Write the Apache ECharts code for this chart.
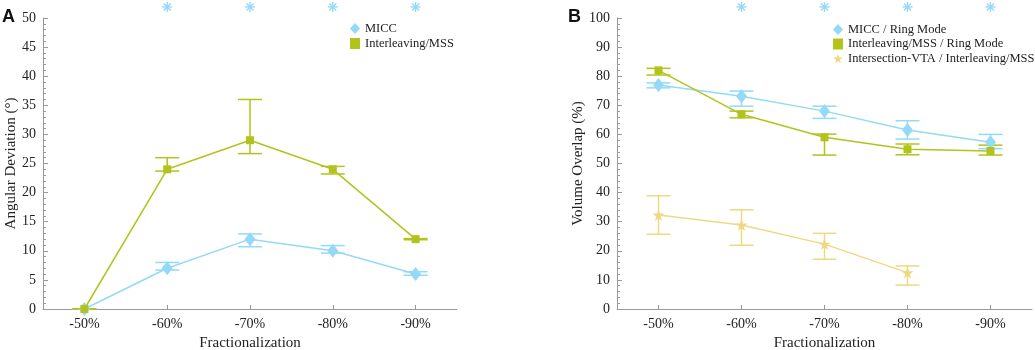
<!DOCTYPE html>
<html>
<head>
<meta charset="utf-8">
<script src="https://cdn.jsdelivr.net/npm/echarts@6/dist/echarts.min.js"></script>
<style>
  html, body { margin: 0; padding: 0; background: #fff; }
  #chart { width: 1035px; height: 350px; }
</style>
</head>
<body>
<div id="chart"></div>
<script>
const categories = ['-50%', '-60%', '-70%', '-80%', '-90%'];

// Panel A: angular deviation (deg)
const angMicc = [0, 7, 12, 10, 6];
const angMiccLow = [0, 6.7, 10.7, 9.6, 5.8];
const angMiccHigh = [0, 8.0, 12.9, 10.9, 6.4];
const angInter = [0, 24, 29, 24, 12];
const angInterLow = [0, 23.7, 26.7, 23.2, 11.9];
const angInterHigh = [0, 26.0, 36.0, 24.5, 12.1];
const angSig = ['-60%', '-70%', '-80%', '-90%'];

// Panel B: volume overlap (%)
const volMicc = [77, 73.1, 68, 61.5, 57.3];
const volMiccLow = [76.0, 69.7, 65.5, 58.4, 55.1];
const volMiccHigh = [77.7, 74.9, 69.7, 64.7, 60.0];
const volInter = [82, 66.9, 59, 54.9, 54.3];
const volInterLow = [80.4, 65.7, 52.9, 53.0, 52.9];
const volInterHigh = [82.7, 68.0, 60.1, 56.7, 56.3];
const volVta = [32.3, 28.9, 22.3, 12.5, null];
const volVtaLow = [25.7, 21.9, 17.1, 8.2, null];
const volVtaHigh = [38.9, 34.1, 26.0, 14.8, null];
const volSig = ['-60%', '-70%', '-80%', '-90%'];

const BLUE = '#94d9f7';
const GREEN = '#b2c31b';
const YELLOW = '#eed982';
const SERIF = '"Liberation Serif", "DejaVu Serif", serif';
const STAR = 'path://M50,0 L61,35 L98,35 L68,57 L79,91 L50,70 L21,91 L32,57 L2,35 L39,35 Z';

function errorBars(low, high, color, axis) {
  const data = [];
  low.forEach((l, i) => { if (l != null) data.push([i, l, high[i]]); });
  return {
    type: 'custom',
    xAxisIndex: axis, yAxisIndex: axis,
    z: 1,
    silent: true,
    data,
    renderItem(params, api) {
      const x = api.value(0);
      const lo = api.coord([x, api.value(1)]);
      const hi = api.coord([x, api.value(2)]);
      const w = 12;
      const st = { stroke: color, lineWidth: 1.5 };
      return {
        type: 'group',
        children: [
          { type: 'line', shape: { x1: lo[0], y1: lo[1], x2: hi[0], y2: hi[1] }, style: st },
          { type: 'line', shape: { x1: lo[0] - w, y1: lo[1], x2: lo[0] + w, y2: lo[1] }, style: st },
          { type: 'line', shape: { x1: hi[0] - w, y1: hi[1], x2: hi[0] + w, y2: hi[1] }, style: st },
        ],
      };
    },
  };
}

function sigMarks(cats, yVal, axis) {
  return {
    type: 'custom',
    xAxisIndex: axis, yAxisIndex: axis,
    clip: false,
    silent: true,
    data: cats.map((c) => [categories.indexOf(c), yVal]),
    renderItem(params, api) {
      const p = api.coord([api.value(0), api.value(1)]);
      const r = 5, d = r * 0.7071;
      const st = { stroke: BLUE, lineWidth: 1.4 };
      return {
        type: 'group',
        children: [
          { type: 'line', shape: { x1: p[0] - r, y1: p[1], x2: p[0] + r, y2: p[1] }, style: st },
          { type: 'line', shape: { x1: p[0], y1: p[1] - r, x2: p[0], y2: p[1] + r }, style: st },
          { type: 'line', shape: { x1: p[0] - d, y1: p[1] - d, x2: p[0] + d, y2: p[1] + d }, style: st },
          { type: 'line', shape: { x1: p[0] - d, y1: p[1] + d, x2: p[0] + d, y2: p[1] - d }, style: st },
        ],
      };
    },
  };
}

function xAxis(gridIndex) {
  return {
    type: 'category',
    gridIndex,
    data: categories,
    boundaryGap: true,
    name: 'Fractionalization',
    nameLocation: 'middle',
    nameGap: 23,
    nameTextStyle: { fontFamily: SERIF, fontSize: 15, color: '#222' },
    axisLine: { lineStyle: { color: '#999', width: 1 } },
    axisTick: { show: true, alignWithLabel: true, inside: true, length: 4, lineStyle: { color: '#999' } },
    axisLabel: { fontFamily: SERIF, fontSize: 14, color: '#222', margin: 8 },
    splitLine: { show: false },
  };
}

function yAxis(gridIndex, max, interval, name, gap) {
  return {
    type: 'value',
    gridIndex,
    min: 0, max, interval,
    name,
    nameLocation: 'middle',
    nameGap: gap,
    nameTextStyle: { fontFamily: SERIF, fontSize: 15, color: '#222' },
    axisLine: { show: true, lineStyle: { color: '#999', width: 1 } },
    axisTick: { show: true, inside: true, length: 5, lineStyle: { color: '#999' } },
    minorTick: { show: true, splitNumber: 5, length: 3, lineStyle: { color: '#999' } },
    axisLabel: { fontFamily: SERIF, fontSize: 14, color: '#222', margin: 7 },
    splitLine: { show: false },
  };
}

function lineSeries(name, data, color, symbol, size, axis) {
  return {
    name, type: 'line', data,
    xAxisIndex: axis, yAxisIndex: axis,
    symbol, symbolSize: size,
    showSymbol: true,
    z: 3,
    lineStyle: { color, width: 1.5 },
    itemStyle: { color, borderWidth: 0 },
    emphasis: { disabled: true },
  };
}

const chart = echarts.init(document.getElementById('chart'));
chart.setOption({
  animation: false,
  title: [
    { text: 'A', left: 2, top: 8, padding: 0, textStyle: { fontFamily: 'Arial, "Liberation Sans", sans-serif', fontWeight: 'bold', fontSize: 18, color: '#111' } },
    { text: 'B', left: 568, top: 8, padding: 0, textStyle: { fontFamily: 'Arial, "Liberation Sans", sans-serif', fontWeight: 'bold', fontSize: 18, color: '#111' } },
  ],
  legend: [
    {
      orient: 'vertical', left: 345, top: 17, itemGap: 2, itemWidth: 10, itemHeight: 11,
      textStyle: { fontFamily: SERIF, fontSize: 12.5, color: '#222' },
      data: [{ name: 'MICC', icon: 'diamond' }, { name: 'Interleaving/MSS', icon: 'rect' }],
    },
    {
      orient: 'vertical', left: 828, top: 18, itemGap: 1.5, itemWidth: 10, itemHeight: 11,
      textStyle: { fontFamily: SERIF, fontSize: 12.5, color: '#222' },
      data: [
        { name: 'MICC / Ring Mode', icon: 'diamond' },
        { name: 'Interleaving/MSS / Ring Mode', icon: 'rect' },
        { name: 'Intersection-VTA / Interleaving/MSS', icon: STAR },
      ],
    },
  ],
  grid: [
    { left: 43, right: 578, top: 18, bottom: 41, outerBoundsMode: 'none' },
    { left: 617, right: 3, top: 18, bottom: 41, outerBoundsMode: 'none' },
  ],
  xAxis: [xAxis(0), xAxis(1)],
  yAxis: [
    yAxis(0, 50, 5, 'Angular Deviation (°)', 24),
    yAxis(1, 100, 10, 'Volume Overlap (%)', 30),
  ],
  series: [
    errorBars(angMiccLow, angMiccHigh, BLUE, 0),
    errorBars(angInterLow, angInterHigh, GREEN, 0),
    lineSeries('MICC', angMicc, BLUE, 'diamond', [11, 14], 0),
    lineSeries('Interleaving/MSS', angInter, GREEN, 'rect', 8, 0),
    sigMarks(angSig, 51.9, 0),

    errorBars(volMiccLow, volMiccHigh, BLUE, 1),
    errorBars(volInterLow, volInterHigh, GREEN, 1),
    errorBars(volVtaLow, volVtaHigh, YELLOW, 1),
    lineSeries('MICC / Ring Mode', volMicc, BLUE, 'diamond', [11, 14], 1),
    lineSeries('Interleaving/MSS / Ring Mode', volInter, GREEN, 'rect', 8, 1),
    lineSeries('Intersection-VTA / Interleaving/MSS', volVta, YELLOW, STAR, 12, 1),
    sigMarks(volSig, 103.8, 1),
  ],
});
</script>
</body>
</html>
